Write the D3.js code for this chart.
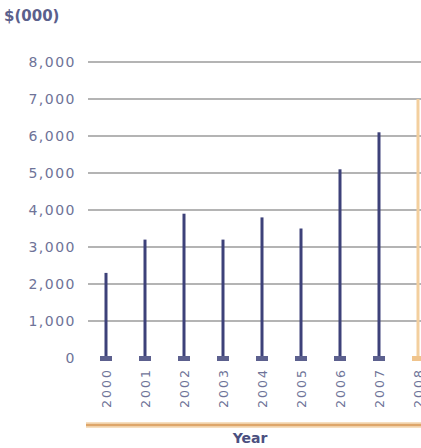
<!DOCTYPE html>
<html>
<head>
<meta charset="utf-8">
<script src="https://cdn.jsdelivr.net/npm/d3@7"></script>
<style>
  body { margin: 0; background: #fff; }
  svg { display: block; font-family: "DejaVu Sans", sans-serif; }
  .tick-label { fill: #6e7398; font-size: 14px; letter-spacing: 1.5px; }
  .year-label { fill: #6e7398; font-size: 12.5px; letter-spacing: 2px; }
</style>
</head>
<body>
<script>
// data
const years = ['2000', '2001', '2002', '2003', '2004', '2005', '2006', '2007', '2008']
const values = [2300, 3200, 3900, 3200, 3800, 3500, 5100, 6100, 7000]
const yTicks = [0, 1000, 2000, 3000, 4000, 5000, 6000, 7000, 8000]

const width = 421
const height = 448

const svg = d3.select('body').append('svg')
  .attr('width', width)
  .attr('height', height)

const xScale = d3.scalePoint()
  .domain(years)
  .range([106, 418])

const yScale = d3.scaleLinear()
  .domain([0, 8000])
  .range([358, 62])

// gridlines
svg.append('g').selectAll('line')
  .data(yTicks.filter(d => d > 0))
  .enter()
  .append('line')
  .attr('x1', 88)
  .attr('x2', width)
  .attr('y1', d => yScale(d))
  .attr('y2', d => yScale(d))
  .attr('stroke', '#b4b4b4')
  .attr('stroke-width', 2)

// y labels
svg.append('g').selectAll('text')
  .data(yTicks)
  .enter()
  .append('text')
  .attr('class', 'tick-label')
  .attr('x', 76)
  .attr('y', d => yScale(d) + 5)
  .attr('text-anchor', 'end')
  .text(d => d3.format(',')(d))

svg.append('text')
  .attr('x', 4)
  .attr('y', 21)
  .attr('fill', '#5b608c')
  .attr('font-size', 15)
  .attr('font-weight', 'bold')
  .text('$(000)')

// bars (lines)
const isLast = (d, i) => i === years.length - 1

svg.append('g').selectAll('line')
  .data(values)
  .enter()
  .append('line')
  .attr('x1', (d, i) => xScale(years[i]))
  .attr('x2', (d, i) => xScale(years[i]))
  .attr('y1', yScale(0))
  .attr('y2', d => yScale(d))
  .attr('stroke', (d, i) => isLast(d, i) ? '#f3cf9e' : '#3d4179')
  .attr('stroke-width', 3)

// caps
svg.append('g').selectAll('rect')
  .data(values)
  .enter()
  .append('rect')
  .attr('x', (d, i) => xScale(years[i]) - 6)
  .attr('y', yScale(0) - 2)
  .attr('width', 12)
  .attr('height', 5)
  .attr('fill', (d, i) => isLast(d, i) ? '#f0c48c' : '#5c608e')

// year labels
svg.append('g').selectAll('text')
  .data(years)
  .enter()
  .append('text')
  .attr('class', 'year-label')
  .attr('transform', d => `translate(${xScale(d) + 4.5}, 388) rotate(-90)`)
  .attr('text-anchor', 'middle')
  .text(d => d)

// bottom orange line
svg.append('line')
  .attr('x1', 86)
  .attr('x2', width)
  .attr('y1', 425)
  .attr('y2', 425)
  .attr('stroke', '#f6dfc0')
  .attr('stroke-width', 6)
svg.append('line')
  .attr('x1', 86)
  .attr('x2', width)
  .attr('y1', 425)
  .attr('y2', 425)
  .attr('stroke', '#dea66a')
  .attr('stroke-width', 2.5)

svg.append('text')
  .attr('x', 250)
  .attr('y', 443)
  .attr('text-anchor', 'middle')
  .attr('fill', '#4b5080')
  .attr('font-size', 14)
  .attr('font-weight', 'bold')
  .text('Year')
</script>
</body>
</html>
